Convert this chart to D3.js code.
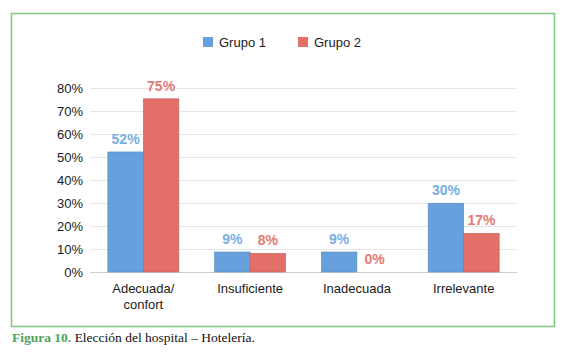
<!DOCTYPE html>
<html>
<head>
<meta charset="utf-8">
<script src="https://cdn.jsdelivr.net/npm/d3@7"></script>
<style>
  html, body { margin: 0; padding: 0; background: #fff; }
  svg { display: block; }
</style>
</head>
<body>
<svg id="chart" width="567" height="358"></svg>
<script>
const categories = ["Adecuada/\nconfort", "Insuficiente", "Inadecuada", "Irrelevante"];
const seriesNames = ["Grupo 1", "Grupo 2"];
const grupo1 = [52.2, 8.7, 8.7, 29.9];
const grupo2 = [75.3, 8.1, 0, 16.8];
const yTicks = [0, 10, 20, 30, 40, 50, 60, 70, 80];
const colors = ["#67a1dd", "#e27069"];
const labelColors = ["#78aee3", "#e37a75"];

const svg = d3.select("#chart");
const font = "'Liberation Sans', Arial, Helvetica, sans-serif";

// frame
svg.append("rect").attr("x", 11.5).attr("y", 13.5).attr("width", 543).attr("height", 313)
  .attr("fill", "none").attr("stroke", "#86c786").attr("stroke-width", 1.6);

const x = d3.scaleBand().domain(categories).range([90, 517]).paddingInner(0.335).paddingOuter(0.167);
const xs = d3.scaleBand().domain(seriesNames).range([0, x.bandwidth()]);
const y = d3.scaleLinear().domain([0, 80]).range([272, 88]);

// gridlines
svg.append("g").selectAll("line").data(yTicks).join("line")
  .attr("x1", 90).attr("x2", 517)
  .attr("y1", d => y(d) + 0.5).attr("y2", d => y(d) + 0.5)
  .attr("stroke", d => d === 0 ? "#cfcfcf" : "#e6e6e6").attr("stroke-width", 1);

// y axis labels
const yAxis = d3.axisLeft(y).tickValues(yTicks).tickFormat(d => d + "%").tickSize(0).tickPadding(0);
const gy = svg.append("g").attr("transform", "translate(83,0)").call(yAxis);
gy.select(".domain").remove();
gy.selectAll("text").attr("font-family", font).attr("font-size", 13).attr("fill", "#1a1a1a").attr("dy", "0.36em");

// bars
const series = [grupo1, grupo2];
series.forEach((vals, si) => {
  const g = svg.append("g");
  g.selectAll("rect").data(vals).join("rect")
    .attr("x", (d, i) => x(categories[i]) + xs(seriesNames[si]))
    .attr("y", d => y(d))
    .attr("width", xs.bandwidth())
    .attr("height", d => y(0) - y(d))
    .attr("fill", colors[si])
    .attr("stroke", d3.color(colors[si]).darker(0.4))
    .attr("stroke-width", 0.6);
  g.selectAll("text").data(vals).join("text")
    .attr("x", (d, i) => x(categories[i]) + xs(seriesNames[si]) + xs.bandwidth() / 2)
    .attr("y", d => y(d) - 8)
    .attr("text-anchor", "middle")
    .attr("font-family", font).attr("font-size", 14).attr("font-weight", "bold")
    .attr("fill", labelColors[si])
    .text(d => Math.round(d) + "%");
});

// x labels
const gx = svg.append("g");
categories.forEach(c => {
  const lines = c.split("\n");
  const t = gx.append("text").attr("text-anchor", "middle")
    .attr("font-family", font).attr("font-size", 13).attr("fill", "#1a1a1a");
  lines.forEach((l, i) => {
    t.append("tspan").attr("x", x(c) + x.bandwidth() / 2).attr("y", 293 + i * 16).text(l);
  });
});

// legend
const legendX = [203, 298];
seriesNames.forEach((n, i) => {
  svg.append("rect").attr("x", legendX[i]).attr("y", 37).attr("width", 10).attr("height", 10).attr("fill", colors[i]);
  svg.append("text").attr("x", legendX[i] + 16).attr("y", 46.5)
    .attr("font-family", font).attr("font-size", 13).attr("fill", "#1a1a1a").text(n);
});

// caption
const cap = svg.append("text").attr("x", 12).attr("y", 342)
  .attr("font-family", "'Liberation Serif', 'DejaVu Serif', serif").attr("font-size", 13.5);
cap.append("tspan").attr("fill", "#4fa25a").attr("font-weight", "bold").text("Figura 10.");
cap.append("tspan").attr("fill", "#111").text(" Elección del hospital – Hotelería.");
</script>
</body>
</html>
